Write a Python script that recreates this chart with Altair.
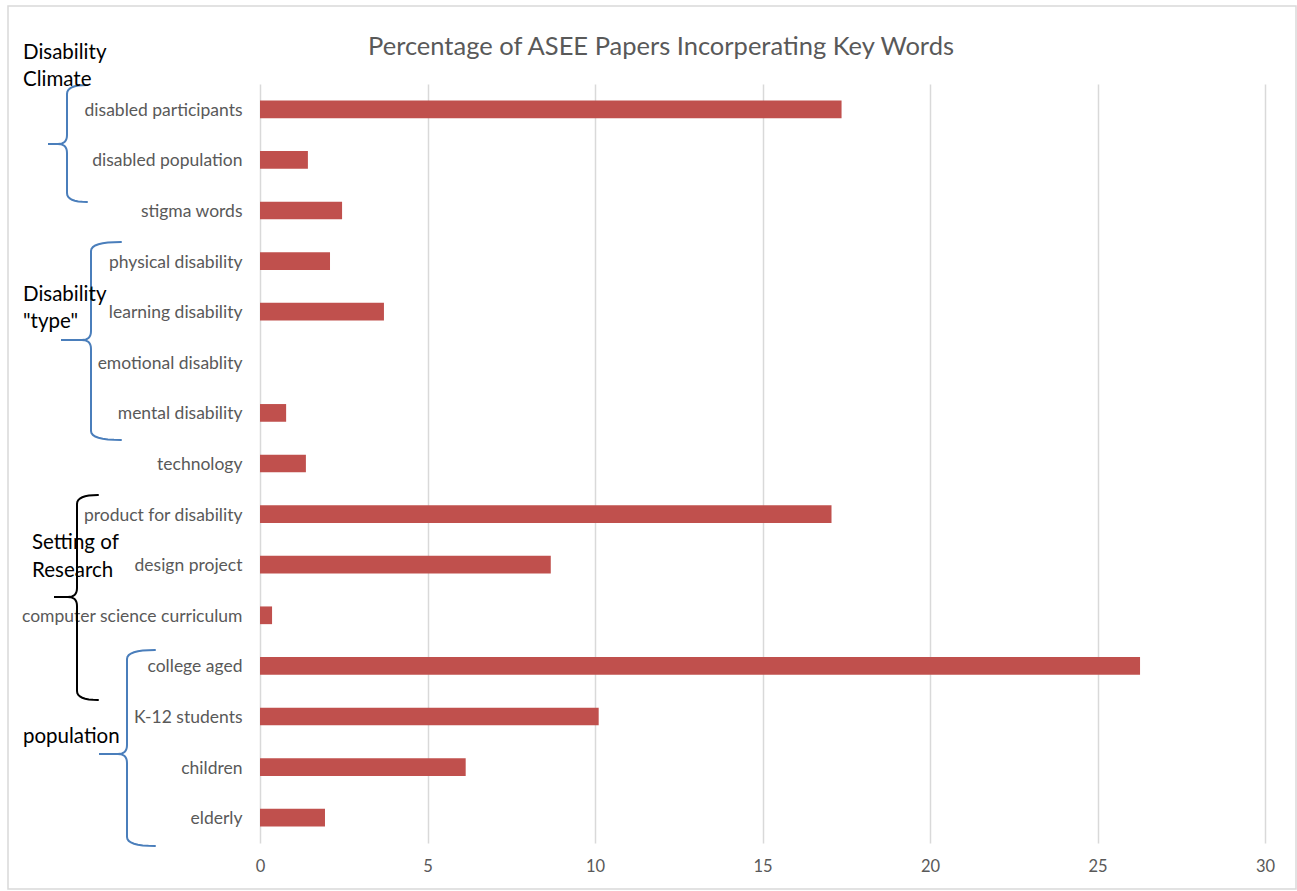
import altair as alt
import pandas as pd

# ---- data ----
categories = [
    "disabled participants", "disabled population", "stigma words",
    "physical disability", "learning disability", "emotional disablity",
    "mental disability", "technology", "product for disability",
    "design project", "computer science curriculum", "college aged",
    "K-12 students", "children", "elderly",
]
values = [17.36, 1.43, 2.45, 2.09, 3.70, 0.0, 0.78, 1.37, 17.06,
          8.68, 0.36, 26.27, 10.11, 6.14, 1.94]
x_ticks = [0, 5, 10, 15, 20, 25, 30]
title_text = "Percentage of ASEE Papers Incorperating Key Words"

# group annotation labels (text lines) and brace specs (page-pixel layout)
group_lines = ["Disability", "Climate", "Disability", "\"type\"",
               "Setting of", "Research", "population"]
group_line_x = [23, 23, 23, 23, 32, 32, 23]
group_line_y = [53, 80, 295, 322, 543, 571, 737]

# brace: top, bottom, stem_x, tip_x, arm_x, tip_y, colour
braces = [
    (85, 202, 67, 48, 87, 144, "#4a7ebb"),
    (242, 440, 91, 61, 121, 340, "#4a7ebb"),
    (495, 700, 77, 54, 98, 597, "#000000"),
    (650, 846, 127, 99, 155, 754, "#4a7ebb"),
]

W, H = 1297, 891
LEFT, TOP = 260, 84
PW, PH = 1005, 759


def qbez(p0, p1, p2, n=8):
    pts = []
    for k in range(n + 1):
        t = k / n
        x = (1 - t) ** 2 * p0[0] + 2 * (1 - t) * t * p1[0] + t ** 2 * p2[0]
        y = (1 - t) ** 2 * p0[1] + 2 * (1 - t) * t * p1[1] + t ** 2 * p2[1]
        pts.append((x, y))
    return pts


brace_rows = []
for bi, (top, bot, sx, tx, ax, ty, col) in enumerate(braces):
    r = 9
    pts = []
    pts += qbez((ax, top), (sx, top), (sx, top + r))
    pts += qbez((sx, ty - r), (sx, ty), (sx - r, ty))
    pts += [(tx, ty)]
    pts += qbez((sx - r, ty), (sx, ty), (sx, ty + r))
    pts += qbez((sx, bot - r), (sx, bot), (ax, bot))
    for i, (x, y) in enumerate(pts):
        brace_rows.append({"b": bi, "i": i, "px": x, "py": y, "col": col})

bars_df = pd.DataFrame({"label": categories, "value": values})
brace_df = pd.DataFrame(brace_rows)
text_df = pd.DataFrame({"t": group_lines, "px": group_line_x, "py": group_line_y})
title_df = pd.DataFrame({"t": [title_text], "px": [661], "py": [47]})
border_df = pd.DataFrame({"x1": [8], "x2": [1296], "y1": [6], "y2": [889]})

px_scale = alt.Scale(domain=[0, W], range=[-LEFT, W - LEFT], nice=False, zero=False)
py_scale = alt.Scale(domain=[0, H], range=[-TOP, H - TOP], nice=False, zero=False)

border = alt.Chart(border_df).mark_rect(
    fill=None, stroke="#d9d9d9", strokeWidth=1.5
).encode(
    x=alt.X("x1:Q", scale=px_scale, axis=None),
    x2="x2:Q",
    y=alt.Y("y1:Q", scale=py_scale, axis=None),
    y2="y2:Q",
)

bars = alt.Chart(bars_df).mark_bar(color="#c0504d").encode(
    x=alt.X(
        "value:Q",
        scale=alt.Scale(domain=[0, 30], nice=False),
        axis=alt.Axis(
            values=x_ticks, title=None, grid=True, gridColor="#d9d9d9",
            gridWidth=1.5, domain=False, ticks=False, labelFontSize=16.5,
            labelColor="#595959", labelPadding=15, labelFont="Lato",
            labelFlush=False,
        ),
    ),
    y=alt.Y(
        "label:N", sort=categories,
        scale=alt.Scale(paddingInner=0.65, paddingOuter=0.325),
        axis=alt.Axis(
            title=None, domain=False, ticks=False, labelFontSize=17.5,
            labelColor="#595959", labelPadding=18, labelFont="Lato",
            labelLimit=400, labelOffset=1.5,
        ),
    ),
)

brace_layer = alt.Chart(brace_df).mark_line(strokeWidth=2, strokeCap="round").encode(
    x=alt.X("px:Q", scale=px_scale, axis=None),
    y=alt.Y("py:Q", scale=py_scale, axis=None),
    detail="b:N",
    order="i:Q",
    color=alt.Color("col:N", scale=None),
)

text_layer = alt.Chart(text_df).mark_text(
    align="left", baseline="middle", fontSize=20.5, font="Lato", color="#000000"
).encode(
    x=alt.X("px:Q", scale=px_scale, axis=None),
    y=alt.Y("py:Q", scale=py_scale, axis=None),
    text="t:N",
)

title_layer = alt.Chart(title_df).mark_text(
    align="center", baseline="middle", fontSize=25.5, font="Lato", color="#595959"
).encode(
    x=alt.X("px:Q", scale=px_scale, axis=None),
    y=alt.Y("py:Q", scale=py_scale, axis=None),
    text="t:N",
)

chart = alt.layer(border, bars, brace_layer, text_layer, title_layer).resolve_scale(
    x="independent", y="independent"
).properties(
    width=PW, height=PH,
    background="white",
    autosize=alt.AutoSizeParams(type="none"),
    padding={"left": LEFT, "top": TOP, "right": W - LEFT - PW, "bottom": H - TOP - PH},
).configure_view(strokeWidth=0, stroke="transparent")

chart.save("out.html", embed_options={"renderer": "svg", "actions": False})
